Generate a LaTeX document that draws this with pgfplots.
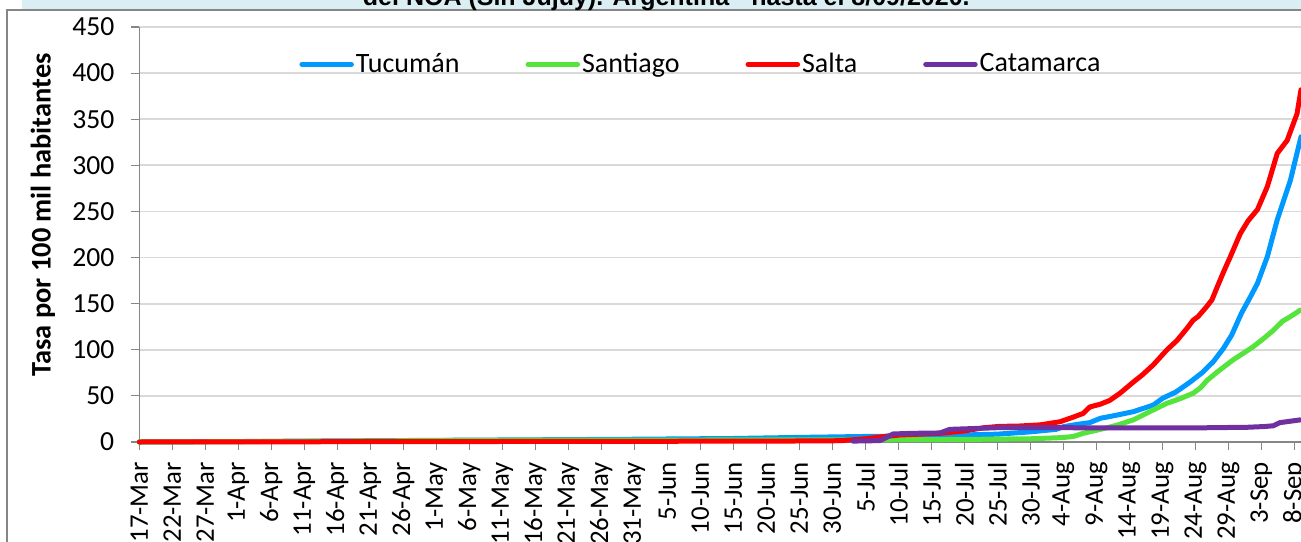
\documentclass[border=0pt]{standalone}
\usepackage{fontspec}
\setmainfont{Carlito}
\newfontfamily\arialfont{Liberation Sans}
\usepackage{pgfplots}
\usepackage{pgfplotstable}
\pgfplotsset{compat=1.18}
\definecolor{cTuc}{RGB}{0,153,255}
\definecolor{cSgo}{RGB}{85,228,60}
\definecolor{cSal}{RGB}{255,0,0}
\definecolor{cCat}{RGB}{112,48,160}
\definecolor{band}{RGB}{218,238,243}
\definecolor{gridc}{RGB}{217,217,217}
\definecolor{axc}{RGB}{134,134,134}

\pgfplotstableread{
d v
0 0
15 0.5
30 1.2
45 1.8
60 2.4
75 3.0
90 3.8
100.1 5.0
110 6.0
120 6.8
130 8.5
135 11
138.9 13.7
140 16.6
142 19
144 21
145.6 25.7
148 29
150.6 32.9
153.6 40
155.1 47.7
157 54
159.2 65
161 75
162.7 87
164.2 101
165.5 116
167 140
168.3 157
169.4 172
170.9 201
172.4 241
174.4 284
176 331
}\tuc

\pgfplotstableread{
d v
0 0
15 0.4
30 1.0
45 1.6
60 2.0
90 2.2
110 2.3
125 2.8
135 3.5
139.9 4.8
141.5 6
143 9.4
145.6 13.7
148 18
150.6 24
153.6 34.7
155.7 42
157.7 47
159.7 53
160.8 59
161.8 67
163.5 77
165.7 89
167.2 96
168.7 103
170.3 112
171.8 121
173.2 131
174.4 136
175.9 143
}\sgo

\pgfplotstableread{
d v
0 0
30 0.3
60 0.6
90 0.9
100 1.1
106.2 1.4
110 3.5
112.7 5.8
115.2 7.6
121.3 9.4
125 12
128 15.5
130.4 17
133 17.2
136.5 18.6
139.5 22
141.5 27
143 31
144 38
145.6 41
147 45
148.6 53
150.6 65
152 73
153.6 83.5
155.7 100
157.2 110
158.7 123
159.65 132
160.4 136
161.5 145
162.5 154
163.3 168
164.3 185
165.3 201
166.8 226
168 240
169.4 252
170.9 277
172.4 313
173.9 327
175.4 356
176 382
}\sal

\pgfplotstableread{
d v
108.1 1
112.2 1.5
113.2 5
114.2 8.7
117 9.4
121.3 9.8
122.8 13.7
126 14.5
130 15.5
140 15.5
150 15.2
160 15.3
168 16
170.5 16.8
171.8 17.6
172.8 21
175.9 24
}\cat

\begin{document}
\begin{tikzpicture}
\fill[white] (-69.65pt,-49.5pt) rectangle (580.85pt,221pt);
\fill[band] (-58.5pt,216.5pt) rectangle (590pt,230pt);
\draw[axc, line width=0.6pt] (-66.15pt,-80pt) -- (-66.15pt,216pt) -- (600pt,216pt);
\node[font=\arialfont\bfseries\fontsize{12.5}{14}\selectfont, anchor=base] at (263.5pt,218pt) {del NOA (Sin Jujuy). Argentina - hasta el 8/09/2020.};
\node[font=\bfseries\fontsize{14.2}{16}\selectfont, rotate=90] at (-48.15pt,113.5pt) {Tasa por 100 mil habitantes};
\begin{axis}[
  at={(0pt,0pt)}, anchor=south west,
  scale only axis, width=580.85pt, height=207.5pt,
  xmin=0, xmax=176, ymin=0, ymax=450,
  axis x line=bottom, axis y line=left,
  axis line style={-, draw=axc, line width=0.6pt},
  xtick={0,5,...,175},
  xticklabels={17-Mar,22-Mar,27-Mar,1-Apr,6-Apr,11-Apr,16-Apr,21-Apr,26-Apr,1-May,6-May,11-May,16-May,21-May,26-May,31-May,5-Jun,10-Jun,15-Jun,20-Jun,25-Jun,30-Jun,5-Jul,10-Jul,15-Jul,20-Jul,25-Jul,30-Jul,4-Aug,9-Aug,14-Aug,19-Aug,24-Aug,29-Aug,3-Sep,8-Sep},
  ytick={0,50,...,450},
  ymajorgrids, major grid style={gridc, line width=0.9pt},
  tick align=outside, tick style={axc, line width=0.6pt}, major tick length=4pt,
  x tick label style={rotate=90, anchor=east, font=\fontsize{13.4}{16}\selectfont},
  y tick label style={font=\fontsize{13.8}{16}\selectfont},
  xticklabel shift=2.5pt, yticklabel shift=5pt,
  /pgf/number format/assume math mode=true,
  clip=false,
  legend columns=4,
  legend style={draw=none, fill=none, at={(0.1375,0.910)}, anchor=west, inner sep=0pt,
    font=\fontsize{14}{16}\selectfont, nodes={inner sep=1pt},
    /tikz/every even column/.append style={column sep=32pt}},
  legend image code/.code={\draw[#1, line width=2.5pt, line cap=round] (1.25pt,0pt) -- (26pt,0pt);},
  every axis plot/.append style={line width=2.5pt, line join=round, line cap=round},
]
\addplot[cTuc] table[x=d,y=v] {\tuc};
\addlegendentry{Tucumán}
\addplot[cSgo] table[x=d,y=v] {\sgo};
\addlegendentry{Santiago}
\addplot[cSal] table[x=d,y=v] {\sal};
\addlegendentry{Salta}
\addplot[cCat] table[x=d,y=v] {\cat};
\addlegendentry{Catamarca}
\end{axis}
\pgfresetboundingbox
\path[use as bounding box] (-69.65pt,-49.5pt) rectangle (580.85pt,221pt);
\end{tikzpicture}
\end{document}
